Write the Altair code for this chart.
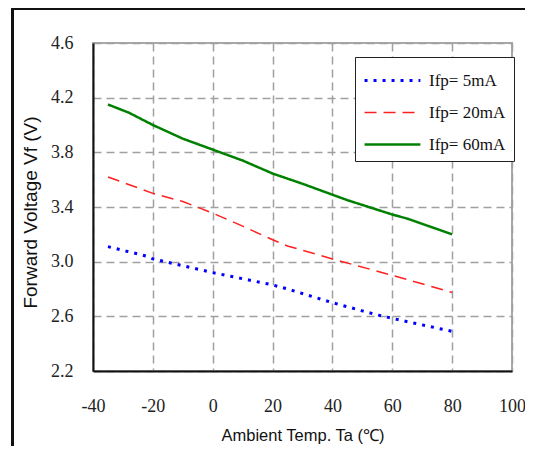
import altair as alt
import pandas as pd

series_names = ["Ifp= 5mA", "Ifp= 20mA", "Ifp= 60mA"]
series_colors = ["#0000ff", "#ff2020", "#008000"]

temp_5 = [-35, -22, -20, 0, 20, 25, 40, 50, 55, 60, 80]
vf_5 = [3.11, 3.04, 3.02, 2.92, 2.83, 2.80, 2.70, 2.64, 2.61, 2.585, 2.49]

temp_20 = [-35, -20, -10, 0, 10, 20, 25, 40, 60, 80]
vf_20 = [3.62, 3.50, 3.44, 3.355, 3.26, 3.16, 3.115, 3.02, 2.90, 2.775]

temp_60 = [-35, -28, -20, -10, 0, 10, 20, 30, 40, 45, 55, 60, 65, 80]
vf_60 = [4.15, 4.09, 4.00, 3.90, 3.82, 3.74, 3.645, 3.57, 3.49, 3.45, 3.38, 3.345, 3.315, 3.20]

x_ticks = [-40, -20, 0, 20, 40, 60, 80, 100]
y_ticks = [2.2, 2.6, 3.0, 3.4, 3.8, 4.2, 4.6]

rows = []
for name, ts, vs in zip(series_names, [temp_5, temp_20, temp_60], [vf_5, vf_20, vf_60]):
    for t, v in zip(ts, vs):
        rows.append({"series": name, "temp": t, "vf": v})
df = pd.DataFrame(rows)

W, H = 419, 328
PAD_L, PAD_T, PAD_R, PAD_B = 85, 35, 13, 75

legend = alt.Legend(
    title=None, orient="none", legendX=262, legendY=14,
    fillColor="white", strokeColor="#222222", padding=8,
    symbolType="M-1,0H3", symbolSize=780,
    labelFont="Liberation Serif", labelFontSize=17, labelColor="#111111",
    labelOffset=35, rowPadding=8.5, labelLimit=200,
)

lines = alt.Chart(df).mark_line(clip=False).encode(
    x=alt.X("temp:Q", scale=alt.Scale(domain=[-40, 100], nice=False, zero=False),
            axis=alt.Axis(values=x_ticks, title="Ambient Temp. Ta (℃)",
                          titleX=W / 2, titleY=64, titleBaseline="middle",
                          titleFont="Liberation Sans", titleFontSize=16.5,
                          labelPadding=26, labelFlush=False, labelExpr="'' + datum.value")),
    y=alt.Y("vf:Q", scale=alt.Scale(domain=[2.2, 4.6], nice=False, zero=False),
            axis=alt.Axis(values=y_ticks, title="Forward Voltage Vf (V)", format=".1f",
                          titleX=-63, titleY=H / 2 + 5, titleAngle=-90,
                          titleAlign="center", titleBaseline="middle",
                          titleFont="Liberation Sans", titleFontSize=19,
                          labelPadding=20)),
    color=alt.Color("series:N", scale=alt.Scale(domain=series_names, range=series_colors), legend=legend),
    strokeDash=alt.StrokeDash("series:N", scale=alt.Scale(domain=series_names, range=[[3, 6], [12, 7], [1, 0]]), legend=legend),
    strokeWidth=alt.StrokeWidth("series:N", scale=alt.Scale(type="ordinal", domain=series_names, range=[3, 1.5, 2.5]), legend=legend),
    order=alt.Order("temp:Q"),
)

left_frame = alt.Chart(df).mark_rule(color="#111111", strokeWidth=2).encode(
    x=alt.value(-80.5), y=alt.value(-34), y2=alt.value(H + PAD_B)
)
top_frame = alt.Chart(df).mark_rule(color="#111111", strokeWidth=2).encode(
    x=alt.value(-81.5), x2=alt.value(W + PAD_R), y=alt.value(-34)
)

chart = alt.layer(lines, left_frame, top_frame).properties(
    width=W, height=H,
    autosize=alt.AutoSizeParams(type="none"),
    padding={"left": PAD_L, "top": PAD_T, "right": PAD_R, "bottom": PAD_B},
).configure_view(
    stroke="#a8a8a8", strokeWidth=2
).configure_axis(
    grid=True, gridColor="#a0a0a0", gridDash=[8, 5], gridWidth=1.5,
    ticks=False, domainColor="#111111", domainWidth=2,
    labelFont="Liberation Serif", labelFontSize=18, labelColor="#222222",
    titleFontWeight="normal", titleColor="#111111",
)

chart.save("out.html", embed_options={"renderer": "svg", "actions": False})
